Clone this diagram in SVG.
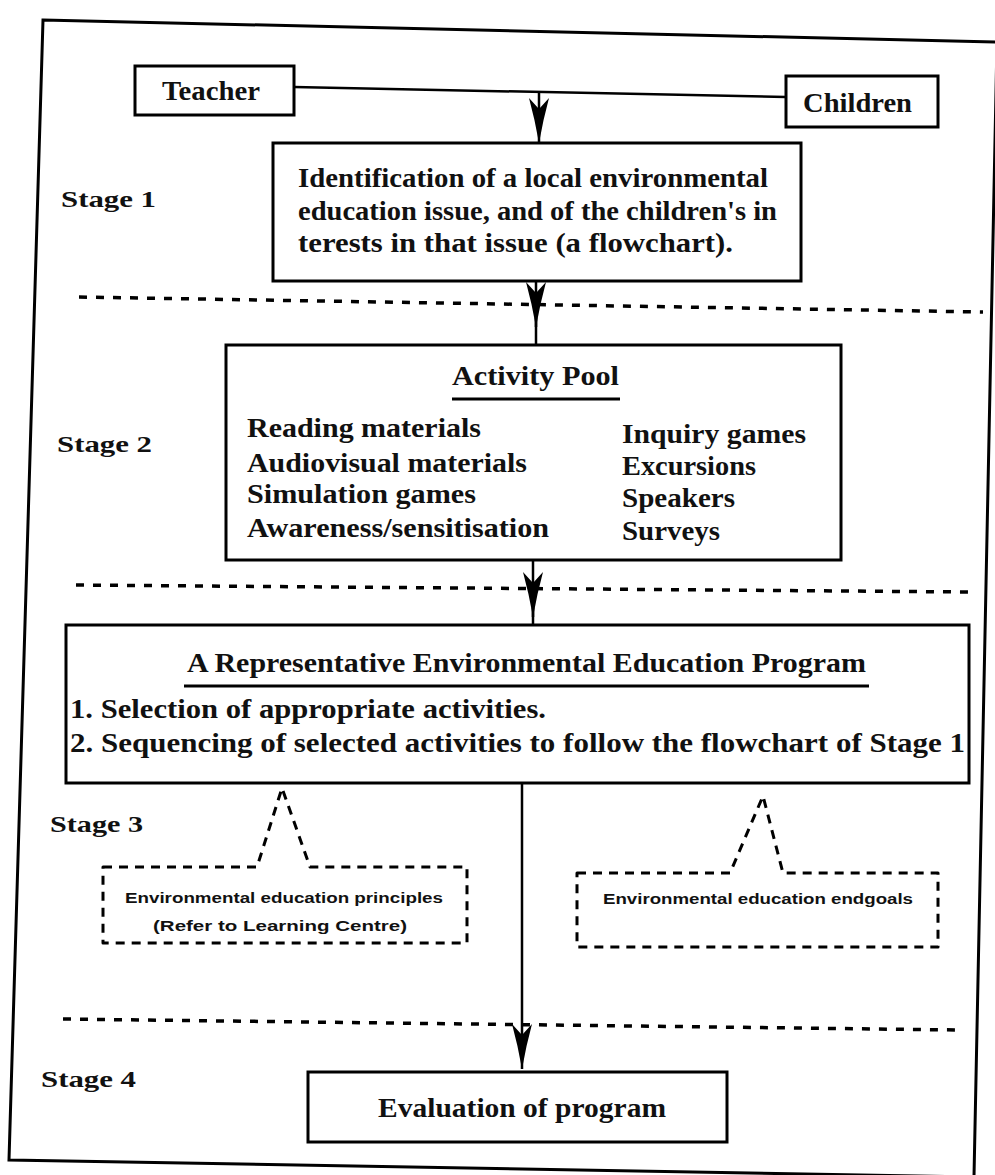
<svg xmlns="http://www.w3.org/2000/svg" width="995" height="1175" viewBox="0 0 995 1175">
<defs>
<style>
.box{fill:#fff;stroke:#000;stroke-width:3}
.frame{fill:none;stroke:#000;stroke-width:3}
.t{font-family:"Liberation Serif","DejaVu Serif",serif;font-weight:bold;fill:#111;font-size:27px}
.st{font-family:"Liberation Serif","DejaVu Serif",serif;font-weight:bold;fill:#111;font-size:23px}
.nm{font-family:"Liberation Serif","DejaVu Serif",serif;font-weight:bold;fill:#111;font-size:28px}
.sm{font-family:"Liberation Sans","DejaVu Sans",sans-serif;font-weight:bold;fill:#111;font-size:14px}
.sep{fill:none;stroke:#000;stroke-width:3.5;stroke-dasharray:8 9}
.call{fill:#fff;stroke:#000;stroke-width:3;stroke-dasharray:9 7;stroke-linejoin:round}
.ul{stroke:#000;stroke-width:3}
.con{fill:none;stroke:#000;stroke-width:2.5}
</style>
<marker id="ah" markerUnits="userSpaceOnUse" markerWidth="46" markerHeight="22" refX="45" refY="11" orient="auto" viewBox="0 0 46 22">
<path d="M45,11 Q22,7 0,1 L11,11 L0,21 Q22,15 45,11 Z" fill="#000"/>
</marker>
</defs>
<rect width="995" height="1175" fill="#fff"/>
<polygon class="frame" points="43,20 997,42 974,1177 9,1160"/>

<g id="separators">
<line class="sep" x1="79" y1="297" x2="983" y2="312"/>
<line class="sep" x1="76" y1="585" x2="971" y2="592"/>
<line class="sep" x1="63" y1="1019" x2="958" y2="1030"/>
</g>

<g id="stage-labels">
<text class="st" x="61" y="207" textLength="95" lengthAdjust="spacingAndGlyphs">Stage 1</text>
<text class="st" x="57" y="452" textLength="95" lengthAdjust="spacingAndGlyphs">Stage 2</text>
<text class="st" x="50" y="832" textLength="93" lengthAdjust="spacingAndGlyphs">Stage 3</text>
<text class="st" x="41" y="1087" textLength="95" lengthAdjust="spacingAndGlyphs">Stage 4</text>
</g>

<g id="connectors">
<line class="con" x1="294" y1="87" x2="786" y2="97"/>
<line class="con" x1="539" y1="92" x2="539" y2="143" marker-end="url(#ah)"/>
<line class="con" x1="536" y1="280" x2="536" y2="327" marker-end="url(#ah)"/>
<line class="con" x1="536" y1="318" x2="536" y2="345"/>
<line class="con" x1="533" y1="560" x2="533" y2="617" marker-end="url(#ah)"/>
<line class="con" x1="533" y1="608" x2="533" y2="625"/>
<line class="con" x1="522" y1="783" x2="522" y2="1069" marker-end="url(#ah)"/>
</g>

<g id="teacher">
<rect class="box" x="135" y="66" width="159" height="49"/>
<text class="nm" x="162" y="100" textLength="98" lengthAdjust="spacingAndGlyphs">Teacher</text>
</g>

<g id="children">
<rect class="box" x="786" y="76" width="152" height="51"/>
<text class="nm" x="803" y="112" textLength="109" lengthAdjust="spacingAndGlyphs">Children</text>
</g>

<g id="stage1">
<rect class="box" x="273" y="143" width="528" height="138"/>
<text class="t" x="298" y="187" textLength="470" lengthAdjust="spacingAndGlyphs">Identification of a local environmental</text>
<text class="t" x="298" y="220" textLength="479" lengthAdjust="spacingAndGlyphs">education issue, and of the children's in</text>
<text class="t" x="298" y="252" textLength="435" lengthAdjust="spacingAndGlyphs">terests in that issue (a flowchart).</text>
</g>

<g id="activity-pool">
<rect class="box" x="226" y="345" width="615" height="215"/>
<text class="t" x="452" y="385" textLength="167" lengthAdjust="spacingAndGlyphs">Activity Pool</text>
<line class="ul" x1="452" y1="399" x2="620" y2="399"/>
<text class="t" x="247" y="437" textLength="234" lengthAdjust="spacingAndGlyphs">Reading materials</text>
<text class="t" x="247" y="472" textLength="280" lengthAdjust="spacingAndGlyphs">Audiovisual materials</text>
<text class="t" x="247" y="503" textLength="229" lengthAdjust="spacingAndGlyphs">Simulation games</text>
<text class="t" x="247" y="537" textLength="302" lengthAdjust="spacingAndGlyphs">Awareness/sensitisation</text>
<text class="t" x="622" y="443" textLength="184" lengthAdjust="spacingAndGlyphs">Inquiry games</text>
<text class="t" x="622" y="475" textLength="134" lengthAdjust="spacingAndGlyphs">Excursions</text>
<text class="t" x="622" y="507" textLength="113" lengthAdjust="spacingAndGlyphs">Speakers</text>
<text class="t" x="622" y="540" textLength="98" lengthAdjust="spacingAndGlyphs">Surveys</text>
</g>

<g id="program">
<rect class="box" x="66" y="625" width="903" height="158"/>
<text class="t" x="187" y="672" textLength="679" lengthAdjust="spacingAndGlyphs">A Representative Environmental Education Program</text>
<line class="ul" x1="184" y1="686" x2="869" y2="686"/>
<text class="t" x="70" y="718" textLength="476" lengthAdjust="spacingAndGlyphs">1. Selection of appropriate activities.</text>
<text class="t" x="70" y="752" textLength="895" lengthAdjust="spacingAndGlyphs">2. Sequencing of selected activities to follow the flowchart of Stage 1</text>
</g>

<g id="principles">
<path class="call" d="M103,867 L257,867 L282,788 L310,867 L467,867 L467,943 L103,943 Z"/>
<text class="sm" x="125" y="903" textLength="318" lengthAdjust="spacingAndGlyphs">Environmental education principles</text>
<text class="sm" x="153" y="931" textLength="254" lengthAdjust="spacingAndGlyphs">(Refer to Learning Centre)</text>
</g>

<g id="endgoals">
<path class="call" d="M577,873 L730,873 L763,796 L783,873 L938,873 L938,947 L577,947 Z"/>
<text class="sm" x="603" y="904" textLength="310" lengthAdjust="spacingAndGlyphs">Environmental education endgoals</text>
</g>

<g id="evaluation">
<rect class="box" x="308" y="1072" width="419" height="70"/>
<text class="nm" x="378" y="1117" textLength="288" lengthAdjust="spacingAndGlyphs">Evaluation of program</text>
</g>
</svg>
